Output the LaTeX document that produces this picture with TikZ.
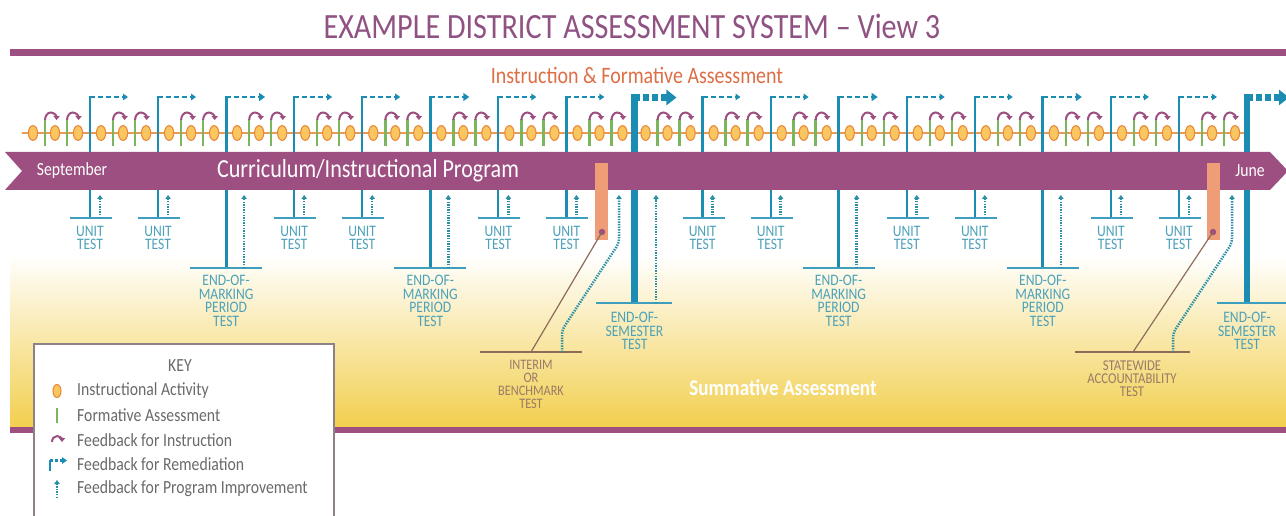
\documentclass[tikz,border=0pt]{standalone}
\usepackage{fontspec}
\setmainfont[FakeStretch=0.85]{Carlito}
\usetikzlibrary{arrows.meta}
\definecolor{purp}{HTML}{9C4F80}
\definecolor{titlepurp}{HTML}{8F5283}
\definecolor{remc}{HTML}{1B8DB3}
\definecolor{progc}{HTML}{2B8FA5}
\definecolor{teallbl}{HTML}{4DA2B9}
\definecolor{grn}{HTML}{7CB65C}
\definecolor{ovfill}{HTML}{FAC65F}
\definecolor{ovline}{HTML}{E98A3E}
\definecolor{tline}{HTML}{E99A55}
\definecolor{salmon}{HTML}{EE9D76}
\definecolor{brn}{HTML}{8C6B59}
\definecolor{brnlbl}{HTML}{9A7B67}
\definecolor{ylw}{HTML}{F2CF4E}
\definecolor{orangetxt}{HTML}{DE6E45}
\definecolor{keygray}{HTML}{6A6A6A}
\definecolor{keyborder}{HTML}{8D8285}
\begin{document}
\begin{tikzpicture}[x=1pt,y=1pt,line join=miter,
  grnbar/.style={draw=grn,line width=2.4pt},
  ovalshape/.style={draw=ovline,fill=ovfill,line width=1.1pt},
  fbarc/.style={draw=purp,line width=2pt,-{Triangle[length=3.8pt,width=6pt]}},
  remv/.style={draw=remc,line width=2.2pt},
  remh/.style={draw=remc,line width=2.2pt,dash pattern=on 5pt off 3pt,-{Triangle[length=5pt,width=6.5pt]}},
  remvm/.style={draw=remc,line width=2.8pt},
  remhm/.style={draw=remc,line width=2.8pt,dash pattern=on 5pt off 3pt,-{Triangle[length=6pt,width=8pt]}},
  remvs/.style={draw=remc,line width=6.5pt},
  remhs/.style={draw=remc,line width=7pt,dash pattern=on 6pt off 3pt,-{Triangle[length=10pt,width=15pt]}},
  prog/.style={draw=progc,line width=2.5pt,dash pattern=on 1.4pt off 1.2pt,-{Triangle[length=4pt,width=5.5pt]}},
  baseln/.style={draw=remc!85,line width=1.3pt},
  brnln/.style={draw=brn,line width=1.2pt},
  lbl/.style={font=\fontsize{16}{13.6}\selectfont,text=teallbl,align=center,inner sep=0pt},
  blbl/.style={font=\fontsize{14.5}{13}\selectfont,text=brnlbl,align=center,inner sep=0pt},
  keytxt/.style={font=\fontsize{18.5}{20}\selectfont,text=keygray,anchor=west,inner sep=0pt},
  month/.style={font=\fontsize{18.5}{20}\selectfont,text=white,inner sep=0pt}]
\useasboundingbox (0,0) rectangle (1286,-516);
\clip (0,0) rectangle (1286,-516);
\fill[white] (0,0) rectangle (1286,-516);
% title and top bar
\node[font=\fontsize{35.5}{37}\selectfont,text=titlepurp,inner sep=0pt] (title) at (632,-26) {EXAMPLE DISTRICT ASSESSMENT SYSTEM -- View 3};
\fill[purp] (10,-49.5) rectangle (1286,-56);
\node[font=\fontsize{23.5}{24}\selectfont,text=orangetxt,inner sep=0pt] (ifa) at (637,-75) {Instruction \& Formative Assessment};
% summative background
\shade[top color=white,bottom color=ylw,middle color=ylw!50] (10,-255) rectangle (1286,-427);
\fill[purp] (10,-427) rectangle (1286,-433);
\node[font=\bfseries\fontsize{22.5}{24}\selectfont,text=white,inner sep=0pt] (summ) at (783,-388) {Summative Assessment};
% timeline
\draw[tline,line width=1.6pt] (22,-133) -- (1247,-133);
\foreach \i in {1,...,18}{
  \pgfmathsetmacro\B{90+68.06*(\i-1)}
  \foreach \d in {45,23}{
    \draw[grnbar] (\B-\d,-119) -- (\B-\d,-146);
    \draw[fbarc] (\B-\d,-120) arc[start angle=180,end angle=0,x radius=5.8,y radius=7.5];
  }
  \foreach \d in {57,35,12}{
    \draw[ovalshape] (\B-\d,-133) ellipse[x radius=4.6,y radius=7.4];
  }
}
% unit tests
\foreach \i in {1,2,4,5,7,8,10,11,13,14,16,17}{
  \pgfmathsetmacro\B{90+68.06*(\i-1)}
  \draw[remv] (\B,-218) -- (\B,-96);
  \draw[remh] (\B,-97) -- (\B+38,-97);
  \draw[baseln] (\B-20,-218) -- (\B+22,-218);
  \draw[prog] (\B+10,-218) -- (\B+10,-195);
  \node[lbl] (unit\i) at (\B,-238) {UNIT\\TEST};
}
% end of marking period
\foreach \i in {3,6,12,15}{
  \pgfmathsetmacro\B{90+68.06*(\i-1)}
  \draw[remvm] (\B,-268) -- (\B,-95.6);
  \draw[remhm] (\B,-97) -- (\B+39,-97);
  \draw[baseln] (\B-36,-268) -- (\B+36,-268);
  \draw[prog] (\B+18,-268) -- (\B+18,-195);
  \node[lbl] (eomp\i) at (\B,-301) {END-OF-\\MARKING\\PERIOD\\TEST};
}
% end of semester
\foreach \i in {9,18}{
  \pgfmathsetmacro\B{90+68.06*(\i-1)}
  \draw[remvs] (\B,-303) -- (\B,-94);
  \draw[remhs] (\B,-97.5) -- (\B+42,-97.5);
  \node[lbl] (eos\i) at (\B,-331) {END-OF-\\SEMESTER\\TEST};
}
\draw[baseln] (596,-303) -- (672,-303);
\draw[prog] (656,-303) -- (656,-195);
\draw[baseln] (1217,-303) -- (1290,-303);
% program band
\fill[purp] (5,-152) -- (1270,-152) -- (1288,-171) -- (1270,-190) -- (5,-190) -- (22,-171) -- cycle;
\node[month] (sep) at (72,-171) {September};
\node[font=\fontsize{26}{27}\selectfont,text=white,inner sep=0pt] (cip) at (368,-171) {Curriculum/Instructional Program};
\node[month] (jun) at (1250,-171) {June};
% interim / benchmark
\fill[salmon] (595,-163) rectangle (608,-240);
\fill[purp] (602,-232) circle[radius=3.2];
\coordinate (intdot) at (602,-232);
\coordinate (intbase) at (531,-352);
\draw[brnln] (intdot) -- (intbase);
\draw[brnln] (480,-352) -- (582,-352);
\draw[prog,rounded corners=5pt] (562,-352) -- (562,-330) -- (619,-243) -- (619,-195);
\node[blbl] (interim) at (531,-384.5) {INTERIM\\OR\\BENCHMARK\\TEST};
% statewide
\fill[salmon] (1207,-163) rectangle (1220,-240);
\fill[purp] (1213,-232) circle[radius=3.2];
\coordinate (stdot) at (1213,-232);
\coordinate (stbase) at (1133,-352);
\draw[brnln] (stdot) -- (stbase);
\draw[brnln] (1075,-352) -- (1190,-352);
\draw[prog,rounded corners=5pt] (1173,-352) -- (1173,-333) -- (1232,-243) -- (1232,-195);
\node[blbl,font=\fontsize{15}{13}\selectfont] (state) at (1132,-378.5) {STATEWIDE\\ACCOUNTABILITY\\TEST};
% key
\draw[draw=keyborder,line width=1.3pt,fill=white] (34,-344) rectangle (334,-530);
\node[font=\fontsize{18.5}{20}\selectfont,text=keygray,inner sep=0pt] (key) at (180,-366) {KEY};
\draw[ovalshape] (57,-391) ellipse[x radius=4,y radius=6.5];
\node[keytxt] (k1) at (77,-391) {Instructional Activity};
\draw[grnbar] (57,-408) -- (57,-423);
\node[keytxt] (k2) at (77,-415) {Formative Assessment};
\draw[fbarc] (52,-442) arc[start angle=180,end angle=0,x radius=5,y radius=6];
\node[keytxt] (k3) at (77,-440) {Feedback for Instruction};
\draw[remv] (50,-471) -- (50,-459.5);
\draw[remh,dash pattern=on 3pt off 2pt] (50,-460.5) -- (67,-460.5);
\node[keytxt] (k4) at (77,-464) {Feedback for Remediation};
\draw[prog] (57,-498) -- (57,-480);
\node[keytxt] (k5) at (77,-489) {Feedback for Program Improvement};
\end{tikzpicture}
\end{document}
